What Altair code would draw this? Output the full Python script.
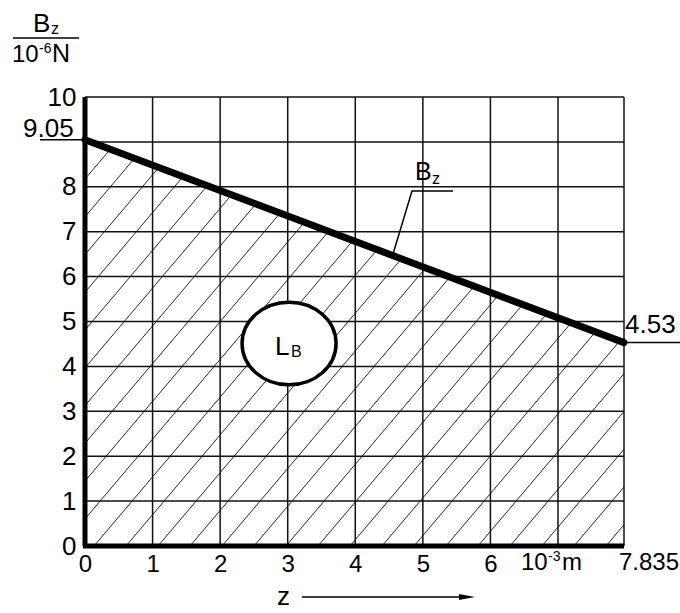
import altair as alt
import numpy as np
import pandas as pd

# ---- values ----
z_end = 7.835          # 10^-3 m
bz_start = 9.05        # 10^-6 N at z = 0
bz_end = 4.53          # 10^-6 N at z = z_end
x_tick_values = [0, 1, 2, 3, 4, 5, 6]
y_tick_values = [0, 1, 2, 3, 4, 5, 6, 7, 8, 10]
x_grid_values = [0, 1, 2, 3, 4, 5, 6, 7, z_end]
y_grid_values = [0, 1, 2, 3, 4, 5, 6, 7, 8, 9, 10]

# ---- geometry of the drawing ----
PAD_L, PAD_T, PAD_R, PAD_B = 85, 97, 56, 67
W, H = 539, 449
X_DOMAIN = [0, 7, z_end]
X_RANGE = [0, 473, W]
FONT = "Liberation Sans"

xscale = alt.Scale(domain=X_DOMAIN, range=X_RANGE)
yscale = alt.Scale(domain=[0, 10], range=[H, 0])
PX_PER_Y = H / 10.0

X_AXIS = alt.Axis(
    values=x_tick_values, title=None, domain=False, ticks=False, grid=False,
    labelFontSize=24, labelFont=FONT, labelColor="black", labelPadding=6,
    labelFlush=False, labelOverlap=False)
Y_AXIS = alt.Axis(
    values=y_tick_values, title=None, domain=False, ticks=False, grid=False,
    labelFontSize=26, labelFont=FONT, labelColor="black", labelPadding=9,
    labelFlush=False, labelOverlap=False)


def X(field):
    return alt.X(field, type="quantitative", scale=xscale, axis=X_AXIS)


def Y(field):
    return alt.Y(field, type="quantitative", scale=yscale, axis=Y_AXIS)


def px_to_x(u):
    return float(np.interp(u, X_RANGE, X_DOMAIN))


# hatching under the B_z line: parallel strokes, built in screen units
# and mapped back into data units so they pass through the same scales
u0 = bz_start * PX_PER_Y
u1 = bz_end * PX_PER_Y
m = (u1 - u0) / W
s = 1.18          # stroke slope
step = 32.0       # stroke spacing along the baseline
hatch = []
c = 9.0 - step * 20
while c < W:
    if c >= 0:
        xa, ya = c, 0.0
    else:
        xa, ya = 0.0, -s * c
    xe = min((u0 + s * c) / (s - m), W)
    ye = s * (xe - c)
    if xe > xa and ya < u0 + m * xa:
        hatch.append({"x": px_to_x(xa), "y": ya / PX_PER_Y,
                      "x2": px_to_x(xe), "y2": ye / PX_PER_Y})
    c += step
hatch_df = pd.DataFrame(hatch)

hatch_layer = alt.Chart(hatch_df).mark_rule(color="#2a2a2a", strokeWidth=1).encode(
    x=X("x"), y=Y("y"), x2="x2:Q", y2="y2:Q")

vgrid = pd.DataFrame({"x": x_grid_values, "y": 0, "y2": 10})
hgrid = pd.DataFrame({"y": y_grid_values, "x": 0, "x2": z_end})
vgrid_layer = alt.Chart(vgrid).mark_rule(color="#111", strokeWidth=1.5).encode(
    x=X("x"), y=Y("y"), y2="y2:Q")
hgrid_layer = alt.Chart(hgrid).mark_rule(color="#111", strokeWidth=1.5).encode(
    y=Y("y"), x=X("x"), x2="x2:Q")

# heavy axis lines
left_axis = alt.Chart(pd.DataFrame({"x": [0], "y": [0], "y2": [10]})).mark_rule(
    color="black", strokeWidth=5).encode(x=X("x"), y=Y("y"), y2="y2:Q")
bottom_axis = alt.Chart(pd.DataFrame({"y": [0], "x": [-0.03], "x2": [z_end]})).mark_rule(
    color="black", strokeWidth=5).encode(y=Y("y"), x=X("x"), x2="x2:Q")

# B_z line
bz_df = pd.DataFrame({"z": [0, z_end], "bz": [bz_start, bz_end]})
bz_layer = alt.Chart(bz_df).mark_line(
    color="black", strokeWidth=7, strokeCap="round").encode(x=X("z"), y=Y("bz"))

# value underlines at both ends
under_df = pd.DataFrame({"y": [bz_start, bz_end], "a": [-45, W], "b": [0, W + 56]})
under_layer = alt.Chart(under_df).mark_rule(color="black", strokeWidth=1.5).encode(
    y=Y("y"), x=alt.X("a:Q", scale=None), x2="b:Q")

# leader from the "B_z" label to the line
lead_z = px_to_x(392 - PAD_L)
lead_pts = pd.DataFrame({
    "x": [lead_z, px_to_x(412 - PAD_L), px_to_x(453 - PAD_L)],
    "y": [bz_start + (bz_end - bz_start) * lead_z / z_end,
          (PAD_T + H - 191) / PX_PER_Y, (PAD_T + H - 191) / PX_PER_Y],
    "o": [0, 1, 2]})
lead_layer = alt.Chart(lead_pts).mark_line(color="black", strokeWidth=1.5).encode(
    x=X("x"), y=Y("y"), order="o:O")

# L_B ellipse
ellipse = alt.Chart(pd.DataFrame({"x": [3.02], "y": [4.51]})).mark_point(
    shape="M -1 0 A 1 0.88 0 1 0 1 0 A 1 0.88 0 1 0 -1 0 Z",
    size=94 * 94, filled=True, fill="white", stroke="black", strokeWidth=3.5,
    opacity=1).encode(x=X("x"), y=Y("y"))

# free text (canvas pixel positions, left-aligned, alphabetic baseline)
texts = pd.DataFrame([
    {"t": "B", "px": 33, "py": 32, "fs": 26},
    {"t": "z", "px": 51, "py": 34, "fs": 16},
    {"t": "10", "px": 12, "py": 62, "fs": 24},
    {"t": "-6", "px": 39, "py": 53, "fs": 14},
    {"t": "N", "px": 52, "py": 62, "fs": 25},
    {"t": "9.05", "px": 23, "py": 137, "fs": 26},
    {"t": "4.53", "px": 625, "py": 333, "fs": 26},
    {"t": "B", "px": 415, "py": 180, "fs": 25},
    {"t": "z", "px": 432, "py": 184, "fs": 16},
    {"t": "L", "px": 275, "py": 355, "fs": 26},
    {"t": "B", "px": 291, "py": 357, "fs": 16},
    {"t": "10", "px": 521, "py": 570, "fs": 24},
    {"t": "-3", "px": 548, "py": 561, "fs": 14},
    {"t": "m", "px": 562, "py": 570, "fs": 24},
    {"t": "7.835", "px": 619, "py": 570, "fs": 24},
    {"t": "z", "px": 277, "py": 605, "fs": 26},
])
texts["x"] = texts["px"] - PAD_L
texts["y"] = texts["py"] - PAD_T
text_layer = alt.Chart(texts).mark_text(
    align="left", baseline="alphabetic", font=FONT, color="black").encode(
    x=alt.X("x:Q", scale=None), y=alt.Y("y:Q", scale=None),
    text="t:N", size=alt.Size("fs:Q", scale=None))

# fraction bar of the vertical-axis unit
frac = alt.Chart(pd.DataFrame({"a": [13 - PAD_L], "b": [79 - PAD_L],
                               "y": [38 - PAD_T]})).mark_rule(
    color="black", strokeWidth=1.5).encode(
    x=alt.X("a:Q", scale=None), x2="b:Q", y=alt.Y("y:Q", scale=None))

# z arrow
arrow_line = alt.Chart(pd.DataFrame({"a": [302 - PAD_L], "b": [462 - PAD_L],
                                     "y": [597 - PAD_T]})).mark_rule(
    color="black", strokeWidth=1.5).encode(
    x=alt.X("a:Q", scale=None), x2="b:Q", y=alt.Y("y:Q", scale=None))
arrow_head = alt.Chart(pd.DataFrame({"x": [467 - PAD_L], "y": [597 - PAD_T]})).mark_point(
    shape="M -1 -0.38 L 1 0 L -1 0.38 Z", size=16 * 16, filled=True,
    color="black", opacity=1).encode(
    x=alt.X("x:Q", scale=None), y=alt.Y("y:Q", scale=None))

chart = alt.layer(
    hatch_layer, vgrid_layer, hgrid_layer,
    left_axis, bottom_axis, bz_layer, under_layer, lead_layer, ellipse,
    text_layer, frac, arrow_line, arrow_head,
).properties(
    width=W, height=H,
    padding={"left": PAD_L, "top": PAD_T, "right": PAD_R, "bottom": PAD_B},
    autosize=alt.AutoSizeParams(type="none"),
    background="white",
).configure_view(stroke=None)

chart.save("out.html", embed_options={"renderer": "svg", "actions": False})
